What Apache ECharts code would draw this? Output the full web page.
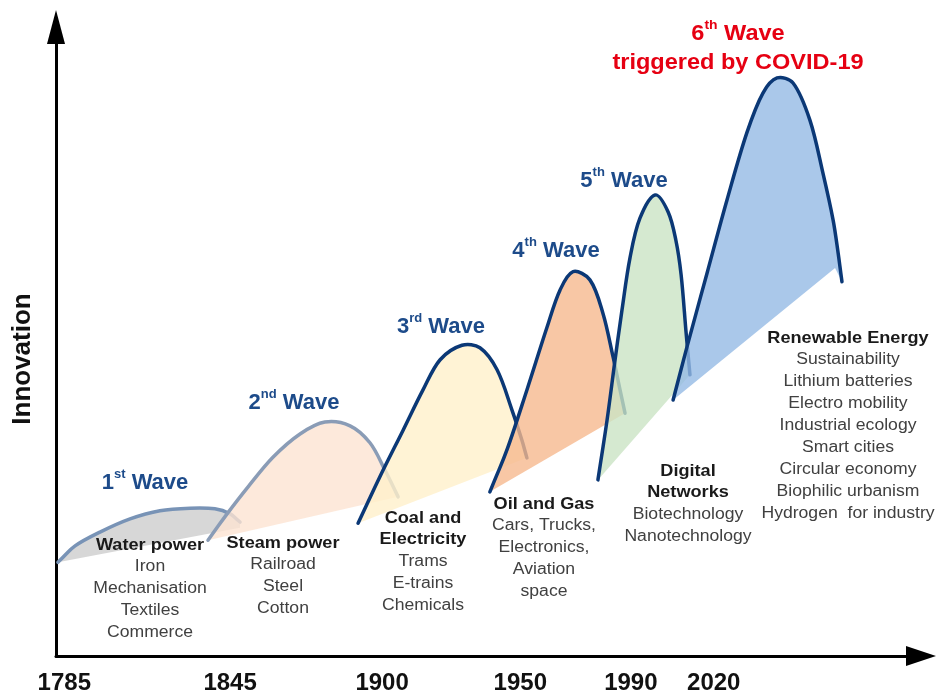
<!DOCTYPE html>
<html lang="en">
<head>
<meta charset="utf-8">
<title>Innovation waves</title>
<script src="https://cdn.jsdelivr.net/npm/echarts@6/dist/echarts.min.js"></script>
<style>
  html, body { margin: 0; padding: 0; background: #fff; }
  #chartMain { width: 936px; height: 693px; }
</style>
</head>
<body>
<div id="chartMain"></div>
<script>
// x = year, y = innovation (arbitrary 0..100)
var yearTicks = [1785, 1845, 1900, 1950, 1990, 2020];

var wave1Curve = [[1782.7, 14.9], [1788.9, 17.5], [1797.9, 19.7], [1808.8, 21.8], [1819.6, 23.1], [1830.5, 23.5], [1839.5, 23.4], [1845.0, 22.6], [1848.6, 21.3]];
var wave1Base = [1848.6, 20.4];

var wave2Curve = [[1837.0, 18.4], [1843.9, 22.6], [1851.5, 26.9], [1860.5, 31.6], [1870.3, 35.3], [1879.3, 37.2], [1888.4, 36.6], [1895.6, 33.9], [1901.0, 29.6], [1905.8, 25.3]];
var wave2Base = [1905.8, 25.3];

var wave3Curve = [[1891.3, 21.1], [1899.2, 28.5], [1907.6, 35.9], [1914.8, 42.3], [1921.0, 47.1], [1928.9, 49.4], [1935.4, 49.0], [1941.6, 45.5], [1947.0, 39.1], [1950.6, 34.3], [1952.4, 31.5]];
var wave3Base = [1952.4, 31.5];

var wave4Curve = [[1939.0, 26.1], [1945.2, 32.8], [1952.4, 42.3], [1959.7, 52.3], [1964.4, 58.2], [1969.1, 61.1], [1975.2, 59.8], [1979.9, 54.5], [1983.6, 47.5], [1986.1, 42.3], [1987.9, 38.6]];
var wave4Base = [1987.9, 38.6];

var wave5Curve = [[1978.1, 28.0], [1981.4, 37.5], [1984.3, 47.1], [1986.8, 55.0], [1989.7, 63.3], [1993.3, 69.6], [1998.8, 73.3], [2003.5, 70.6], [2006.3, 66.1], [2008.2, 60.6], [2010.0, 51.4], [2011.4, 44.7]];
var wave5Base = [2011.4, 44.7];

var wave6Curve = [[2005.3, 40.7], [2010.3, 49.1], [2017.6, 60.9], [2024.8, 72.5], [2032.0, 83.2], [2037.8, 89.5], [2042.9, 91.9], [2048.7, 91.1], [2054.8, 85.2], [2059.5, 76.8], [2063.2, 69.3], [2065.0, 64.1], [2066.4, 59.5]];
var wave6Base = [2063.9, 61.7];

var block1Head = ['Water power'];
var block1Body = ['Iron', 'Mechanisation', 'Textiles', 'Commerce'];
var block2Head = ['Steam power'];
var block2Body = ['Railroad', 'Steel', 'Cotton'];
var block3Head = ['Coal and', 'Electricity'];
var block3Body = ['Trams', 'E-trains', 'Chemicals'];
var block4Head = ['Oil and Gas'];
var block4Body = ['Cars, Trucks,', 'Electronics,', 'Aviation', 'space'];
var block5Head = ['Digital', 'Networks'];
var block5Body = ['Biotechnology', 'Nanotechnology'];
var block6Head = ['Renewable Energy'];
var block6Body = ['Sustainability', 'Lithium batteries', 'Electro mobility', 'Industrial ecology', 'Smart cities', 'Circular economy', 'Biophilic urbanism', 'Hydrogen  for industry'];

var FONT = '"Liberation Sans", Arial, sans-serif';
var NAVY = '#0b3876';
var LABEL_BLUE = '#1d4b8a';
var LH = 21.9;

var waves = [
    {curve: wave1Curve, base: wave1Base, fill: '#cdcdcd', line: '#7893b6'},
    {curve: wave2Curve, base: wave2Base, fill: '#fce3d2', line: '#8a9cb6'},
    {curve: wave3Curve, base: wave3Base, fill: '#fff0ca', line: NAVY},
    {curve: wave4Curve, base: wave4Base, fill: '#f6b98f', line: NAVY},
    {curve: wave5Curve, base: wave5Base, fill: '#cbe4c4', line: NAVY},
    {curve: wave6Curve, base: wave6Base, fill: '#95bae5', line: NAVY}
];

function dist(a, b) {
    return Math.sqrt((a[0] - b[0]) * (a[0] - b[0]) + (a[1] - b[1]) * (a[1] - b[1])) || 1e-6;
}

// catmull-rom (chord weighted) through the points -> cubic bezier path
function smoothPath(pts) {
    var d = 'M' + pts[0][0] + ' ' + pts[0][1];
    for (var i = 0; i < pts.length - 1; i++) {
        var p0 = pts[i - 1] || pts[i], p1 = pts[i], p2 = pts[i + 1], p3 = pts[i + 2] || p2;
        var d01 = dist(p0, p1), d12 = dist(p1, p2), d23 = dist(p2, p3);
        var k1 = d12 / (d01 + d12) / 3 * (p0 === p1 ? 2 : 1);
        var k2 = d12 / (d12 + d23) / 3 * (p3 === p2 ? 2 : 1);
        var c1x = p1[0] + (p2[0] - p0[0]) * k1, c1y = p1[1] + (p2[1] - p0[1]) * k1;
        var c2x = p2[0] - (p3[0] - p1[0]) * k2, c2y = p2[1] - (p3[1] - p1[1]) * k2;
        d += ' C' + [c1x, c1y, c2x, c2y, p2[0], p2[1]].join(' ');
    }
    return d;
}

function waveSeries(w) {
    return {
        type: 'custom',
        data: w.curve,
        silent: true,
        renderItem: function (params, api) {
            if (params.dataIndex !== 0) return null;
            var pts = w.curve.map(function (p) { return api.coord(p); });
            var base = api.coord(w.base);
            var line = smoothPath(pts);
            return {
                type: 'group',
                children: [{
                    type: 'path',
                    shape: {pathData: line + ' L' + base[0] + ' ' + base[1] + ' Z'},
                    style: {fill: w.fill, opacity: 0.8}
                }, {
                    type: 'path',
                    shape: {pathData: line},
                    style: {fill: 'none', stroke: w.line, lineWidth: 3.5, lineCap: 'round'}
                }]
            };
        }
    };
}

function textBlock(x, firstY, head, body) {
    var lines = head.map(function (s) { return '{b|' + s + '}'; })
        .concat(body.map(function (s) { return '{n|' + s + '}'; }));
    return {
        type: 'text', x: x, y: firstY - LH / 2, z: 10, scaleX: 1.1,
        style: {
            text: lines.join('\n'), align: 'center', verticalAlign: 'top',
            rich: {
                b: {fontFamily: FONT, fontSize: 16.5, fontWeight: 'bold', fill: '#1a1a1a', lineHeight: LH, align: 'center'},
                n: {fontFamily: FONT, fontSize: 16, fill: '#404040', lineHeight: LH, align: 'center'}
            }
        }
    };
}

function waveLabel(x, y, num, sup, color, extra, sx) {
    var txt = '{n|' + num + '}{s|' + sup + '}{n| Wave}' + (extra ? '\n{n|' + extra + '}' : '');
    return {
        type: 'text', x: x, y: y, z: 10, scaleX: sx || 1,
        style: {
            text: txt, align: 'center', verticalAlign: 'top',
            rich: {
                n: {fontFamily: FONT, fontSize: 22, fontWeight: 'bold', fill: color, lineHeight: 29, align: 'center'},
                s: {fontFamily: FONT, fontSize: 13, fontWeight: 'bold', fill: color, lineHeight: 27, verticalAlign: 'top', align: 'center'}
            }
        }
    };
}

var chart = echarts.init(document.getElementById('chartMain'), null, {renderer: 'canvas'});
chart.setOption({
    animation: false,
    backgroundColor: '#fff',
    grid: {left: 56, right: 15, top: 27, bottom: 37, outerBoundsMode: 'none', containLabel: false},
    xAxis: {
        type: 'value', min: 1782, max: 2095,
        axisLine: {
            show: true, symbol: ['none', 'triangle'], symbolSize: [20, 30],
            lineStyle: {color: '#000', width: 3}
        },
        axisTick: {show: false},
        splitLine: {show: false},
        axisLabel: {
            customValues: yearTicks,
            formatter: function (v) { return String(v); },
            fontFamily: FONT, fontSize: 24, fontWeight: 'bold', color: '#111', margin: 15
        }
    },
    yAxis: {
        type: 'value', min: 0, max: 100,
        axisLine: {
            show: true, symbol: ['none', 'triangle'], symbolSize: [18, 34],
            lineStyle: {color: '#000', width: 3}
        },
        axisTick: {show: false},
        axisLabel: {show: false},
        splitLine: {show: false}
    },
    series: waves.map(waveSeries),
    graphic: [
        {
            type: 'text', x: 23, y: 359, rotation: Math.PI / 2,
            style: {text: 'Innovation', fontFamily: FONT, fontSize: 26, fontWeight: 'bold', fill: '#111', align: 'center', verticalAlign: 'middle'}
        },
        waveLabel(145, 468, '1', 'st', LABEL_BLUE),
        waveLabel(294, 388, '2', 'nd', LABEL_BLUE),
        waveLabel(441, 312, '3', 'rd', LABEL_BLUE),
        waveLabel(556, 236, '4', 'th', LABEL_BLUE),
        waveLabel(624, 166, '5', 'th', LABEL_BLUE),
        waveLabel(738, 19, '6', 'th', '#e60012', 'triggered by COVID-19', 1.07),
        textBlock(150, 545, block1Head, block1Body),
        textBlock(283, 543, block2Head, block2Body),
        textBlock(423, 518, block3Head, block3Body),
        textBlock(544, 504, block4Head, block4Body),
        textBlock(688, 471, block5Head, block5Body),
        textBlock(848, 338, block6Head, block6Body)
    ]
});
</script>
</body>
</html>
